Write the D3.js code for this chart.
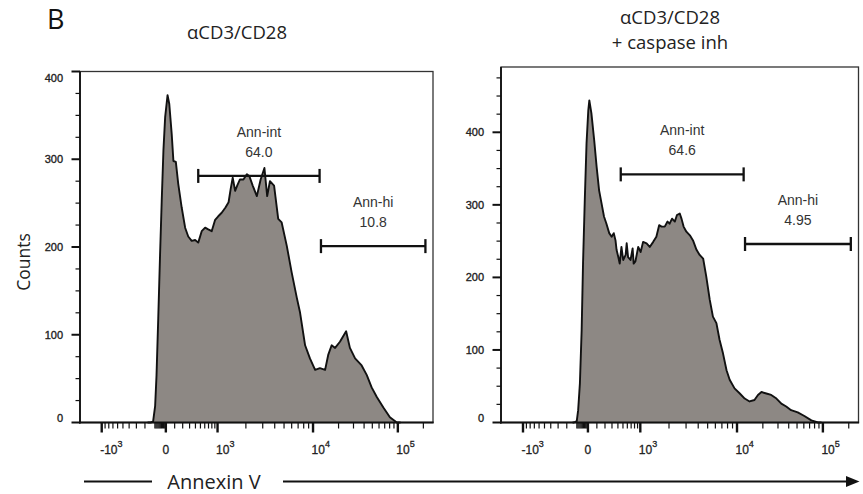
<!DOCTYPE html>
<html><head><meta charset="utf-8">
<script src="https://cdn.jsdelivr.net/npm/d3@7"></script>
<style>body{margin:0;background:#fff} svg{display:block}</style>
</head><body>
<svg id="c" width="863" height="494"></svg>
<script>
// ---------------- data ----------------
const panelLetter = "B";
const titlesLeft = ["αCD3/CD28"];
const titlesRight = ["αCD3/CD28", "+ caspase inh"];
const yAxisTitle = "Counts";
const xAxisTitle = "Annexin V";

// histogram bins: [display channel (0–1024), count]
const histLeft = [[196,0],[205,0],[212,1],[218,19],[222,54],[227,119],[232,188],[237,252],[242,310],[247,348],[254,373],[259,363],[266,329],[271,298],[278,297],[285,272],[295,245],[305,222],[314,212],[324,207],[334,208],[343,205],[353,218],[363,222],[372,220],[382,218],[392,231],[401,235],[411,239],[422,245],[431,251],[437,266],[443,279],[450,264],[456,270],[464,277],[474,277],[484,283],[491,281],[501,270],[513,258],[524,277],[535,290],[543,258],[551,275],[563,270],[575,232],[585,228],[600,201],[614,171],[629,142],[638,126],[653,88],[667,73],[682,60],[696,62],[711,60],[720,77],[730,88],[740,85],[754,92],[772,104],[783,85],[798,73],[817,65],[832,54],[846,40],[861,29],[880,17],[899,6],[919,0],[930,0]];
const histRight = [[205,0],[209,0],[217,2],[221,17],[226,54],[231,127],[235,220],[240,307],[245,385],[250,430],[253,444],[259,426],[267,389],[274,352],[281,320],[288,302],[295,284],[302,274],[310,261],[317,256],[323,261],[328,251],[331,238],[336,228],[340,219],[345,242],[350,224],[357,231],[360,247],[364,228],[371,224],[377,240],[380,219],[385,222],[393,242],[400,235],[407,249],[417,247],[426,242],[436,249],[445,256],[453,272],[460,270],[469,270],[477,277],[483,274],[490,281],[498,277],[504,286],[512,288],[517,281],[523,270],[531,263],[541,258],[550,251],[560,238],[569,231],[579,226],[588,201],[598,169],[607,146],[617,137],[626,114],[636,95],[646,72],[655,59],[669,47],[684,40],[698,33],[712,29],[726,31],[736,38],[746,42],[760,40],[774,38],[789,33],[803,26],[817,22],[831,17],[850,14],[869,9],[889,3],[908,0],[918,0]];

const gateNames = ["Ann-int", "Ann-hi"];
const gateRanges = [[343, 695], [699, 1002]];     // channels
const gatePctLeft = ["64.0", "10.8"];
const gatePctRight = ["64.6", "4.95"];
const gateLevelLeft = [281, 201];                  // counts
const gateLevelRight = [342, 246];

const yMaxLeft = 400, yMaxRight = 490;
const yTicks = [0, 100, 200, 300, 400];
const yMinorStep = 25;

const xTickValues = [-1000, 0, 1000, 10000, 100000];
const xTickChannels = [63, 249, 399, 676, 922];
const xTickLabels = [["-10","3"],["0",""],["10","3"],["10","4"],["10","5"]];
const xMinorValues = [-900,-800,-700,-600,-500,-400,-300,-200,-100,-90,-80,-70,-60,-50,-40,-30,-20,-10,
  100,200,300,400,500,600,700,800,900,
  2000,3000,4000,5000,6000,7000,8000,9000,
  20000,30000,40000,50000,60000,70000,80000,90000,200000];

// ---------------- drawing ----------------
const svg = d3.select("#c");
const asinhT = v => Math.asinh(v / 300);
const valueToChannel = d3.scaleLinear().domain(xTickValues.map(asinhT)).range(xTickChannels);

const panels = [
  {x0:80, x1:433, y0:71.5, y1:422.5, yMax:yMaxLeft, hist:histLeft, pct:gatePctLeft, lvl:gateLevelLeft, titles:titlesLeft, tx:237, ty:[39]},
  {x0:501, x1:858.5, y0:67, y1:422.5, yMax:yMaxRight, hist:histRight, pct:gatePctRight, lvl:gateLevelRight, titles:titlesRight, tx:670, ty:[24,49]}
];

const sansUI = "'Open Sans', 'Noto Sans', sans-serif";
const sansAx = "'Liberation Sans', Arial, sans-serif";

panels.forEach(p => {
  const x = d3.scaleLinear().domain([0, 1024]).range([p.x0, p.x1]);
  const y = d3.scaleLinear().domain([0, p.yMax]).range([p.y1, p.y0]);
  const g = svg.append("g");

  // box
  g.append("rect").attr("x", p.x0).attr("y", p.y0).attr("width", p.x1 - p.x0).attr("height", p.y1 - p.y0)
    .attr("fill", "none").attr("stroke", "#333").attr("stroke-width", 1.3);

  // histogram
  const area = d3.area().x(d => x(d[0])).y0(y(0)).y1(d => y(d[1]));
  const line = d3.line().x(d => x(d[0])).y(d => y(d[1]));
  g.append("path").datum(p.hist).attr("d", area).attr("fill", "#8d8884");
  g.append("path").datum(p.hist).attr("d", line).attr("fill", "none").attr("stroke", "#111")
    .attr("stroke-width", 1.9).attr("stroke-linejoin", "round");

  // axes lines
  g.append("line").attr("x1", p.x0).attr("x2", p.x0).attr("y1", p.y0).attr("y2", p.y1 + 1)
    .attr("stroke", "#111").attr("stroke-width", 1.8);
  g.append("line").attr("x1", p.x0 - 1).attr("x2", p.x1 + 0.6).attr("y1", p.y1).attr("y2", p.y1)
    .attr("stroke", "#111").attr("stroke-width", 2);

  // y ticks
  const yMinor = d3.range(yMinorStep, p.yMax + 0.1, yMinorStep).filter(v => v % 100 !== 0);
  g.selectAll(".ym").data(yMinor).join("line")
    .attr("x1", p.x0 - 4.5).attr("x2", p.x0).attr("y1", d => y(d)).attr("y2", d => y(d))
    .attr("stroke", "#111").attr("stroke-width", 1.2);
  g.selectAll(".yM").data(yTicks).join("line")
    .attr("x1", p.x0 - 8.5).attr("x2", p.x0).attr("y1", d => y(d)).attr("y2", d => y(d))
    .attr("stroke", "#111").attr("stroke-width", 2);
  g.selectAll(".yl").data(yTicks).join("text")
    .attr("x", p.x0 - 17).attr("y", d => y(d) + 4 + (d === 0 ? -5 : 0) + (d === p.yMax ? 6 : 0))
    .attr("text-anchor", "end").attr("font-family", sansAx).attr("font-size", 11)
    .attr("fill", "#222").attr("stroke", "#222").attr("stroke-width", 0.35).text(d => d);

  // x ticks
  g.selectAll(".xm").data(xMinorValues).join("line")
    .attr("x1", d => x(valueToChannel(asinhT(d)))).attr("x2", d => x(valueToChannel(asinhT(d))))
    .attr("y1", p.y1).attr("y2", p.y1 + 6)
    .attr("stroke", "#111").attr("stroke-width", 1.2);
  g.selectAll(".xM").data(xTickValues).join("line")
    .attr("x1", d => x(valueToChannel(asinhT(d)))).attr("x2", d => x(valueToChannel(asinhT(d))))
    .attr("y1", p.y1).attr("y2", p.y1 + 10)
    .attr("stroke", "#111").attr("stroke-width", 2.4);
  xTickValues.forEach((v, i) => {
    const px = x(valueToChannel(asinhT(v)));
    const lab = xTickLabels[i];
    const t = g.append("text").attr("y", 454).attr("font-family", sansAx).attr("font-size", 12)
      .attr("fill", "#222").attr("stroke", "#222").attr("stroke-width", 0.3);
    if (lab[1] === "") {
      t.attr("x", px).attr("text-anchor", "middle").text(lab[0]);
    } else {
      t.attr("x", px - 1.5).attr("text-anchor", "start");
      t.append("tspan").text(lab[0]);
      t.append("tspan").attr("font-size", 9).attr("dy", -7).text(lab[1]);
    }
  });

  // gates
  gateRanges.forEach((r, i) => {
    const gy = y(p.lvl[i]);
    const xa = x(r[0]), xb = x(r[1]);
    g.append("line").attr("x1", xa).attr("x2", xb).attr("y1", gy).attr("y2", gy)
      .attr("stroke", "#111").attr("stroke-width", 2.3);
    [xa, xb].forEach(xx => g.append("line").attr("x1", xx).attr("x2", xx).attr("y1", gy - 7).attr("y2", gy + 7)
      .attr("stroke", "#111").attr("stroke-width", 2.3));
    const cx = (xa + xb) / 2;
    g.append("text").attr("x", cx).attr("y", gy - 39).attr("text-anchor", "middle")
      .attr("font-family", sansAx).attr("font-size", 14).attr("fill", "#333").text(gateNames[i]);
    g.append("text").attr("x", cx).attr("y", gy - 19).attr("text-anchor", "middle")
      .attr("font-family", sansAx).attr("font-size", 14).attr("fill", "#333").text(p.pct[i]);
  });

  // titles
  p.titles.forEach((t, i) => {
    svg.append("text").attr("x", p.tx).attr("y", p.ty[i]).attr("text-anchor", "middle")
      .attr("font-family", sansUI).attr("font-size", 18.5).attr("fill", "#222").text(t);
  });
});

// panel letter
svg.append("text").attr("x", 47).attr("y", 29).attr("font-family", sansUI).attr("font-size", 27)
  .attr("fill", "#111").text(panelLetter);

// y axis title
svg.append("text").attr("transform", "translate(30,262) rotate(-90)").attr("text-anchor", "middle")
  .attr("font-family", sansUI).attr("font-size", 17.5).attr("fill", "#222").text(yAxisTitle);

// x axis title with arrow
svg.append("text").attr("x", 214).attr("y", 489).attr("text-anchor", "middle")
  .attr("font-family", sansUI).attr("font-size", 20).attr("fill", "#222").text(xAxisTitle);
svg.append("line").attr("x1", 84).attr("x2", 152).attr("y1", 481.5).attr("y2", 481.5)
  .attr("stroke", "#111").attr("stroke-width", 2);
svg.append("line").attr("x1", 283).attr("x2", 850).attr("y1", 481.5).attr("y2", 481.5)
  .attr("stroke", "#111").attr("stroke-width", 2);
svg.append("path").attr("d", d3.line()([[846, 476], [859.5, 481.5], [846, 487]])).attr("fill", "#111");
</script>
</body></html>
